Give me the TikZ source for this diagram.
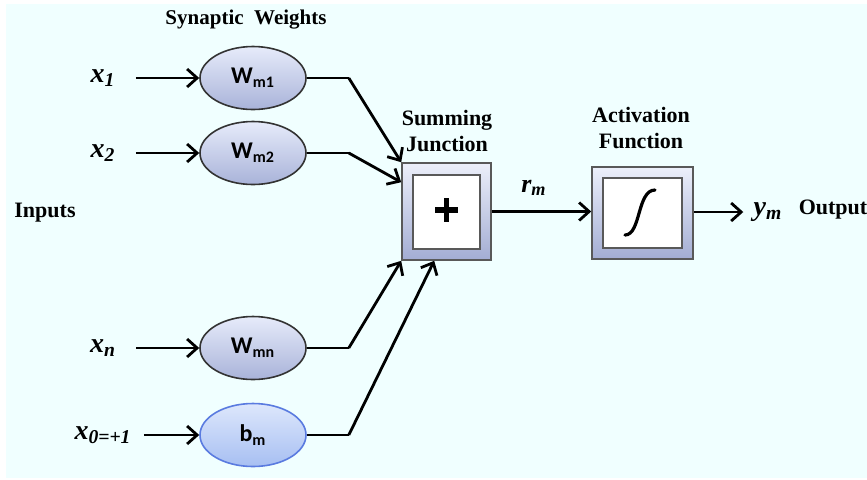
\documentclass[tikz,border=0pt]{standalone}
\usepackage{fontspec}
\setmainfont{Liberation Serif}
\newfontfamily\calib{Carlito}
\usetikzlibrary{arrows.meta,shapes.geometric}
\definecolor{bgcyan}{HTML}{F0FFFF}
\definecolor{elltop}{HTML}{E6EBFA}
\definecolor{ellbot}{HTML}{A9B3D9}
\definecolor{biastop}{HTML}{DDE7FC}
\definecolor{biasbot}{HTML}{A7BFF2}
\definecolor{biasline}{HTML}{5A7BE0}
\definecolor{boxtop}{HTML}{ECEFFA}
\definecolor{boxbot}{HTML}{A3ADD3}

\begin{document}
\begin{tikzpicture}[x=0.5pt,y=-0.5pt,
  arr/.style={line width=1.4pt,-{Straight Barb[length=5pt,width=9pt]}},
  wire/.style={line width=1.4pt},
  inp/.style={inner sep=0pt,font=\fontsize{14}{16}\selectfont\bfseries\itshape},
  head/.style={align=center,font=\fontsize{11}{13}\selectfont\bfseries},
  wt/.style={ellipse,draw=black!80,thick,inner sep=0pt,minimum width=53pt,minimum height=31.5pt,
    top color=elltop,bottom color=ellbot,font=\calib\fontsize{12}{14}\selectfont\bfseries},
  outbox/.style={draw=black!65,thick,top color=boxtop,bottom color=boxbot},
  inbox/.style={draw=black!65,thick,fill=white}]
\useasboundingbox (0,0) rectangle (867,479);
\fill[bgcyan] (6,4) rectangle (867,478);

\node[head,font=\fontsize{10.5}{13}\selectfont\bfseries] (synlbl) at (246,20) {Synaptic\ \ Weights};
\node[head] (inlbl) at (45,213) {Inputs};

\node[inp] (x1) at (103,78) {x\textsubscript{1}};
\node[inp] (x2) at (103,153) {x\textsubscript{2}};
\node[inp] (xn) at (103,348) {x\textsubscript{n}};
\node[inp] (x0) at (103,435) {x\textsubscript{0=+1}};

\node[wt] (wm1) at (253,78) {W\textsubscript{m1}};
\node[wt] (wm2) at (253,153) {W\textsubscript{m2}};
\node[wt] (wmn) at (253,348) {W\textsubscript{mn}};
\node[wt,draw=biasline,top color=biastop,bottom color=biasbot] (bm) at (253,435) {b\textsubscript{m}};

\draw[arr,shorten <=10pt] (x1) -- (wm1);
\draw[arr,shorten <=10pt] (x2) -- (wm2);
\draw[arr,shorten <=10pt] (xn) -- (wmn);
\draw[arr,shorten <=6pt] (x0) -- (bm);

\node[outbox,minimum width=44.5pt,minimum height=48.5pt] (sum) at (446.5,211.5) {};
\node[inbox,minimum width=33.5pt,minimum height=37pt] (suminner) at (446.5,212) {};
\draw[line width=2.8pt] (435,210) -- (458,210) (446.5,198) -- (446.5,222);
\node[head] (sumlbl) at (447,131) {Summing\\Junction};

\node[outbox,minimum width=50.5pt,minimum height=46pt] (act) at (642.5,213) {};
\node[inbox,minimum width=39.5pt,minimum height=35pt] (actinner) at (642.5,213) {};
\draw[line width=1.6pt,line cap=round] (625,235) .. controls (641,235) and (637,190) .. (655,190);
\node[head] (actlbl) at (641,128) {Activation\\Function};

\draw[wire] (wm1.east) -- ++(42,0) coordinate (k1);
\draw[arr] (k1) -- (sum.north west);
\draw[wire] (wm2.east) -- ++(42,0) coordinate (k2);
\draw[arr] (k2) -- ([yshift=-10pt]sum.north west);
\draw[wire] (wmn.east) -- ++(42,0) coordinate (k3);
\draw[arr] (k3) -- (sum.south west);
\draw[wire] (bm.east) -- ++(42,0) coordinate (k4);
\draw[arr] (k4) -- ([xshift=16.5pt]sum.south west);

\draw[arr] (sum.east) -- (sum.east -| act.west);
\node[inp,font=\fontsize{13}{15}\selectfont\bfseries\itshape] (rm) at (534,188) {r\textsubscript{m}};

\node[inp] (ym) at (768,212) {y\textsubscript{m}};
\node[head] (outlbl) at (833,210) {Output};
\draw[arr,shorten >=5pt] (act.east |- ym) -- (ym.west);
\end{tikzpicture}
\end{document}
